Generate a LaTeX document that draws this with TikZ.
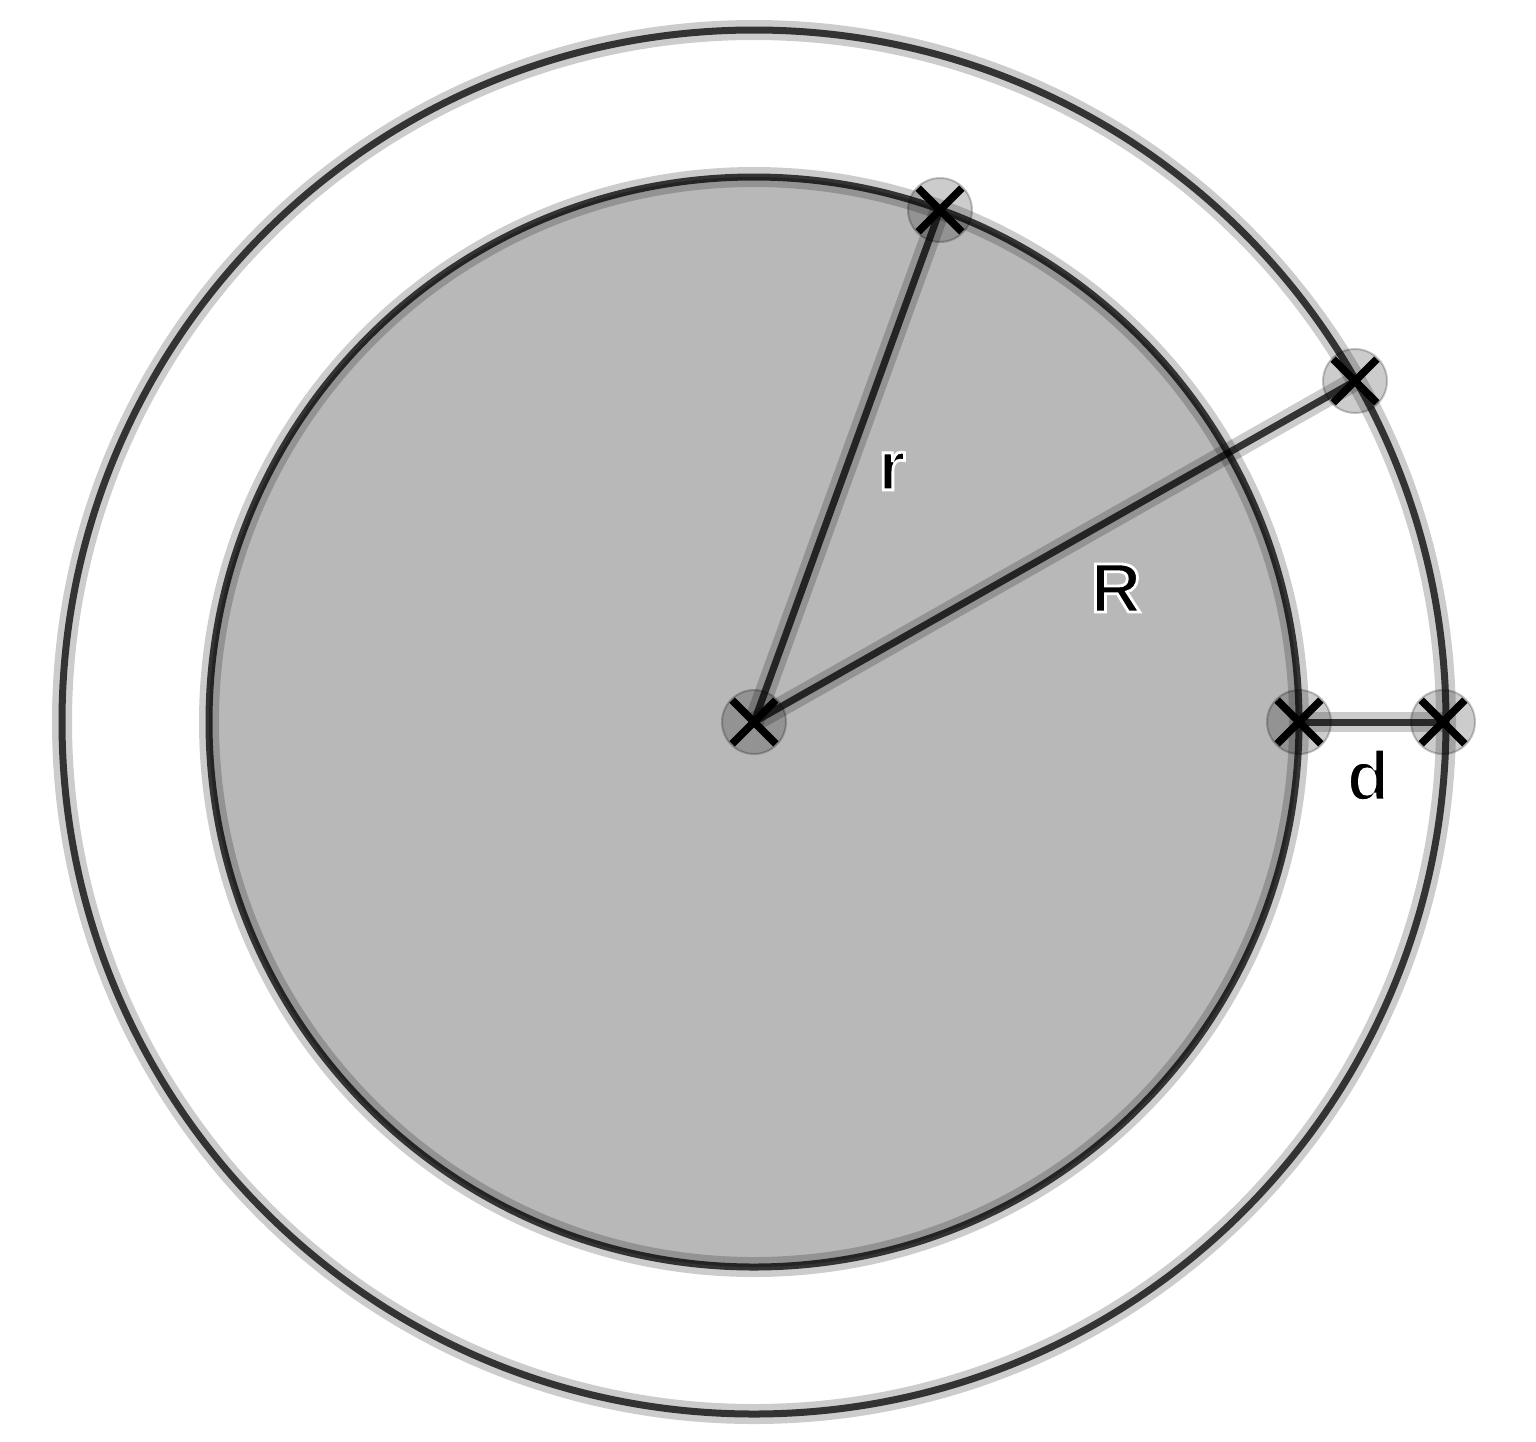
\documentclass[tikz,border=0pt]{standalone}
\usepackage{fontspec}
\setmainfont{Liberation Sans}
\usetikzlibrary{shapes.misc}
\definecolor{diskgray}{HTML}{B8B8B8}
\newcommand{\haloed}[1]{\special{pdf:literal direct 1 1 1 RG 1.4 w 2 Tr}#1\special{pdf:literal direct 0 Tr}}
\tikzset{
  halo/.style={draw=black, draw opacity=0.2, line width=10pt},
  core/.style={draw=black, draw opacity=0.75, line width=3.5pt},
  ptdisk/.style={circle, minimum size=32pt, inner sep=0pt, fill=black, fill opacity=0.2, draw=black, draw opacity=0.22, line width=1pt},
  ptcross/.style={cross out, minimum size=18pt, inner sep=0pt, draw=black, line width=3.8pt},
  lbl/.style={inner sep=0pt, font=\fontsize{35}{42}\selectfont\bfseries}
}
\begin{document}
\begin{tikzpicture}[x=0.5pt,y=-0.5pt]
\useasboundingbox (0,0) rectangle (1536,1441);
\coordinate (O) at (754,722);
% inner disk
\fill[diskgray] (O) circle (272.5pt);
% circles
\draw[halo] (O) circle (346pt);
\draw[core] (O) circle (346pt);
\draw[halo] (O) circle (272.5pt);
\draw[core] (O) circle (272.5pt);
% points
\coordinate (A) at (940,210);
\coordinate (B) at (1355,381);
\coordinate (C) at (1299,722);
\coordinate (D) at (1443,722);
% segments
\draw[halo] (O) -- (A);
\draw[core] (O) -- (A);
\draw[halo] (O) -- (B);
\draw[core] (O) -- (B);
\draw[halo] (C) -- (D);
\draw[core] (C) -- (D);
% point markers
\foreach \p in {O,A,B,C,D} {
  \node[ptdisk] (disk\p) at (\p) {};
  \node[ptcross] (cross\p) at (\p) {};
}
% labels
\node[lbl] (lr) at (892,471) {\haloed{r}};
\node[lbl] (lR) at (1116,588) {\haloed{R}};
\node[lbl] (ld) at (1368,775) {\haloed{d}};
\end{tikzpicture}
\end{document}
